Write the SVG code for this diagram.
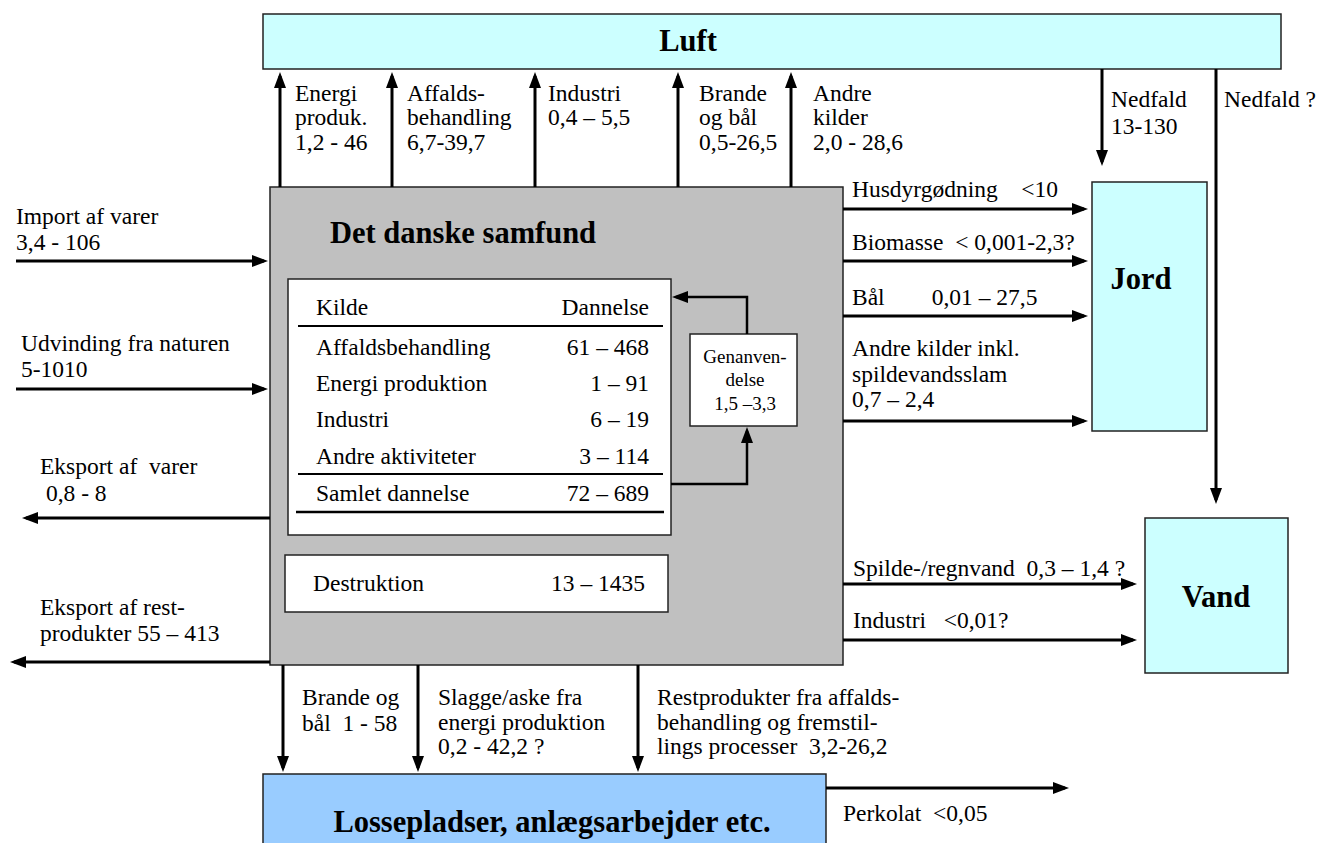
<svg xmlns="http://www.w3.org/2000/svg" width="1320" height="843" viewBox="0 0 1320 843">
<style>
text{font-family:"Liberation Serif","DejaVu Serif","Times New Roman",serif;font-size:23.5px;fill:#000;white-space:pre}
.b{font-weight:bold;font-size:30.5px}
.s{font-size:19px}
.e{text-anchor:end}
.m{text-anchor:middle}
.box{stroke:#222;stroke-width:1.5}
.c line,.c polyline{stroke:#000;stroke-width:3;fill:none;marker-end:url(#ah)}
.rule{stroke:#000;stroke-width:2}
</style>
<defs>
<marker id="ah" markerUnits="userSpaceOnUse" markerWidth="16" markerHeight="12" refX="12" refY="6" orient="auto">
<path d="M0,0 L16,6 L0,12 z" fill="#000"/>
</marker>
</defs>
<rect width="1320" height="843" fill="#fff"/>

<g id="luft">
<rect class="box" x="263" y="14" width="1018" height="55" fill="#ccffff"/>
<text class="b m" x="688" y="51">Luft</text>
</g>

<g id="samfund">
<rect class="box" x="270" y="187" width="573" height="478" fill="#c0c0c0"/>
<text class="b" x="330" y="243">Det danske samfund</text>
</g>

<g id="tabel">
<rect class="box" x="288" y="279" width="383" height="256" fill="#fff"/>
<text x="316" y="315">Kilde</text><text class="e" x="649" y="315">Dannelse</text>
<line class="rule" x1="298" y1="326" x2="663" y2="326"/>
<text x="316" y="355">Affaldsbehandling</text><text class="e" x="649" y="355">61 – 468</text>
<text x="316" y="391">Energi produktion</text><text class="e" x="649" y="391">1 – 91</text>
<text x="316" y="427">Industri</text><text class="e" x="649" y="427">6 – 19</text>
<text x="316" y="464">Andre aktiviteter</text><text class="e" x="649" y="464">3 – 114</text>
<line class="rule" x1="298" y1="474" x2="663" y2="474"/>
<text x="316" y="501">Samlet dannelse</text><text class="e" x="649" y="501">72 – 689</text>
<line class="rule" x1="296" y1="512" x2="664" y2="512" style="stroke-width:2.5"/>
</g>

<g id="destruktion">
<rect class="box" x="285" y="555" width="383" height="57" fill="#fff"/>
<text x="313" y="591">Destruktion</text><text class="e" x="645" y="591">13 – 1435</text>
</g>

<g id="genanvendelse">
<rect class="box" x="690" y="334" width="107" height="92" fill="#fff"/>
<text class="s m" x="745" y="363">Genanven-</text>
<text class="s m" x="745" y="386">delse</text>
<text class="s m" x="745" y="410">1,5 –3,3</text>
</g>

<g id="jord">
<rect class="box" x="1092" y="182" width="115" height="249" fill="#ccffff"/>
<text class="b m" x="1141" y="289">Jord</text>
</g>

<g id="vand">
<rect class="box" x="1145" y="518" width="143" height="155" fill="#ccffff"/>
<text class="b m" x="1216" y="607">Vand</text>
</g>

<g id="losse">
<rect class="box" x="263" y="774" width="563" height="80" fill="#99ccff"/>
<text class="b m" x="552" y="832">Lossepladser, anlægsarbejder etc.</text>
</g>

<g id="connectors" class="c">
<line x1="280" y1="187" x2="280" y2="76"/>
<line x1="392" y1="187" x2="392" y2="76"/>
<line x1="535" y1="187" x2="535" y2="76"/>
<line x1="678" y1="187" x2="678" y2="76"/>
<line x1="791" y1="187" x2="791" y2="76"/>
<line x1="16" y1="261" x2="264" y2="261"/>
<line x1="16" y1="389" x2="264" y2="389"/>
<line x1="270" y1="518" x2="26" y2="518"/>
<line x1="270" y1="662" x2="14" y2="662"/>
<line x1="843" y1="209" x2="1084" y2="209"/>
<line x1="843" y1="261" x2="1084" y2="261"/>
<line x1="843" y1="316" x2="1084" y2="316"/>
<line x1="843" y1="421" x2="1084" y2="421"/>
<line x1="1102" y1="69" x2="1102" y2="162"/>
<line x1="1216" y1="69" x2="1216" y2="500"/>
<line x1="843" y1="584" x2="1133" y2="584"/>
<line x1="843" y1="640" x2="1133" y2="640"/>
<line x1="283" y1="665" x2="283" y2="768"/>
<line x1="418" y1="665" x2="418" y2="768"/>
<line x1="638" y1="665" x2="638" y2="768"/>
<line x1="826" y1="788" x2="1065" y2="788"/>
<polyline points="671,484 747,484 747,431" style="stroke-width:2.5"/>
<polyline points="747,334 747,297 676,297" style="stroke-width:2.5"/>
</g>

<g id="labels">
<text x="295" y="101">Energi</text><text x="295" y="125">produk.</text><text x="295" y="150">1,2 - 46</text>
<text x="407" y="101">Affalds-</text><text x="407" y="125">behandling</text><text x="407" y="150">6,7-39,7</text>
<text x="548" y="101">Industri</text><text x="548" y="125">0,4 – 5,5</text>
<text x="699" y="101">Brande</text><text x="699" y="125">og bål</text><text x="699" y="150">0,5-26,5</text>
<text x="813" y="101">Andre</text><text x="813" y="125">kilder</text><text x="813" y="150">2,0 - 28,6</text>
<text x="1111" y="107">Nedfald</text><text x="1111" y="134">13-130</text>
<text x="1224" y="107">Nedfald ?</text>
<text x="16" y="224">Import af varer</text><text x="16" y="250">3,4 - 106</text>
<text x="21" y="351">Udvinding fra naturen</text><text x="21" y="377">5-1010</text>
<text x="40" y="474">Eksport af  varer</text><text x="40" y="501"> 0,8 - 8</text>
<text x="40" y="615">Eksport af rest-</text><text x="40" y="641">produkter 55 – 413</text>
<text x="852" y="197">Husdyrgødning    &lt;10</text>
<text x="852" y="250">Biomasse  &lt; 0,001-2,3?</text>
<text x="852" y="305">Bål        0,01 – 27,5</text>
<text x="852" y="356">Andre kilder inkl.</text><text x="852" y="382">spildevandsslam</text><text x="852" y="407">0,7 – 2,4</text>
<text x="853" y="576">Spilde-/regnvand  0,3 – 1,4 ?</text>
<text x="853" y="628">Industri   &lt;0,01?</text>
<text x="302" y="705">Brande og</text><text x="302" y="731">bål  1 - 58</text>
<text x="438" y="705">Slagge/aske fra</text><text x="438" y="730">energi produktion</text><text x="438" y="754">0,2 - 42,2 ?</text>
<text x="657" y="705">Restprodukter fra affalds-</text><text x="657" y="730">behandling og fremstil-</text><text x="657" y="754">lings processer  3,2-26,2</text>
<text x="843" y="821">Perkolat  &lt;0,05</text>
</g>
</svg>
